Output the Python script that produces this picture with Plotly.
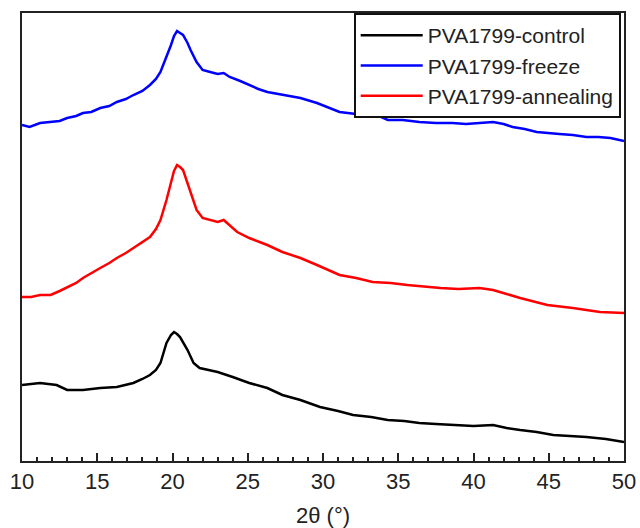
import plotly.graph_objects as go

# 2theta positions (degrees) and intensities (arbitrary units, offset stacked)
x_freeze = [10, 10.5, 11.2, 11.9, 12.5, 13, 13.6, 14.05, 14.6, 15.2, 15.8, 16.3, 16.9, 17.4, 18.0, 18.5,
            18.9, 19.2, 19.6, 19.9, 20.1, 20.3, 20.5, 20.7, 21.0, 21.2, 21.6, 22.0, 22.5,
            23.0, 23.4, 23.8, 24.5, 25.1, 25.7, 26.3, 27.3, 28.5, 29.6, 30.7, 31.1, 32.2, 33.3, 34.3, 35.3,
            36.4, 37.5, 38.6, 39.5, 40.4, 41.3, 42.0, 42.6, 43.4, 44.2, 45.7, 46.6, 47.5, 48.3, 49.1, 50]
y_freeze = [336, 334, 338, 339, 340, 343, 345, 348, 349, 353, 355, 359, 362, 366, 370, 376,
            382, 389, 404, 416, 425, 430, 428, 426, 418, 411, 399, 391, 389,
            387, 388, 384, 380, 376, 372, 369, 366, 363, 358, 351, 349, 347, 348, 341, 341,
            339, 338, 338, 337, 338, 339, 337, 334, 332, 329, 327, 326, 324, 324, 323, 320]

x_anneal = [10, 10.6, 11.2, 11.9, 12.5, 13, 13.6, 14.05, 14.6, 15.2, 15.8, 16.3, 16.9, 17.4, 18.0, 18.5,
            18.9, 19.2, 19.6, 19.9, 20.1, 20.3, 20.5, 20.7, 21.0, 21.2, 21.6, 22.0, 22.5,
            23.0, 23.4, 23.8, 24.3, 25.1, 26.3, 27.3, 28.5, 29.6, 31.1, 32.2, 33.3, 34.5, 35.6, 37.8,
            39.0, 40.4, 41.3, 42.2, 43.1, 44.9, 46.6, 48.4, 50]
y_anneal = [164, 164, 166, 166, 170, 174, 178, 183, 188, 193, 198, 203, 208, 213, 219, 224,
            232, 241, 261, 278, 290, 296, 294, 291, 278, 268, 251, 243, 241,
            239, 241, 236, 229, 223, 216, 209, 203, 196, 186, 183, 179, 178, 176, 173,
            172, 173, 171, 167, 163, 156, 153, 149, 148]

x_control = [10, 10.6, 11.2, 12.3, 13, 14.05, 15.2, 16.3, 17.4, 18.0, 18.5, 18.9, 19.2, 19.6, 19.9, 20.1,
             20.3, 20.5, 20.8, 21.0, 21.4, 21.8, 22.4,
             23.0, 24.0, 25.1, 26.3, 27.3, 28.5, 29.8, 31.0, 32.0, 33.2, 34.3, 35.4, 36.4, 37.5, 38.6,
             40.0, 41.3, 42.2, 43.1, 44.2, 45.3, 46.4, 47.5, 48.8, 50]
y_control = [76, 77, 78, 76, 71, 71, 73, 74, 78, 82, 86, 91, 98, 118, 126, 129,
             127, 124, 116, 111, 98, 93, 91,
             89, 84, 78, 73, 66, 61, 54, 50, 46, 44, 41, 40, 38, 37, 36,
             35, 36, 33, 31, 29, 26, 25, 24, 22, 19]

names = ["PVA1799-control", "PVA1799-freeze", "PVA1799-annealing"]
colors = ["#000000", "#0000ff", "#ff0000"]

fig = go.Figure()
for xs, ys, nm, c in [(x_control, y_control, names[0], colors[0]),
                      (x_freeze, y_freeze, names[1], colors[1]),
                      (x_anneal, y_anneal, names[2], colors[2])]:
    fig.add_trace(go.Scatter(x=xs, y=ys, mode="lines", name=nm,
                             line=dict(color=c, width=2.5)))

font_family = "Liberation Sans, Arial, sans-serif"
fig.update_layout(
    width=640, height=528,
    margin=dict(l=22, r=16, t=13, b=67, autoexpand=False),
    paper_bgcolor="white", plot_bgcolor="white",
    font=dict(family=font_family, color="#222222"),
    showlegend=True,
    legend=dict(x=0.551, y=1, xanchor="left", yanchor="top",
                bordercolor="#111111", borderwidth=2, bgcolor="white",
                font=dict(size=21, family=font_family, color="#222222"),
                tracegroupgap=0, itemwidth=62),
    xaxis=dict(range=[10, 50], dtick=5, tick0=10, ticks="inside", ticklen=8, tickwidth=1.5,
               tickcolor="#222222", showgrid=False, zeroline=False, automargin=False,
               showline=True, linecolor="#222222", linewidth=2, mirror=True,
               tickfont=dict(size=22),
               minor=dict(dtick=1, ticks="inside", ticklen=4, tickcolor="#222222", showgrid=False),
               title=dict(text="2θ (°)", font=dict(size=22), standoff=15)),
    yaxis=dict(range=[0, 448], showticklabels=False, ticks="", showgrid=False, zeroline=False,
               automargin=False,
               showline=True, linecolor="#222222", linewidth=2, mirror=True),
)

fig.write_html("out.html", config={"displayModeBar": False},
               post_script="document.body.style.margin='0';")
